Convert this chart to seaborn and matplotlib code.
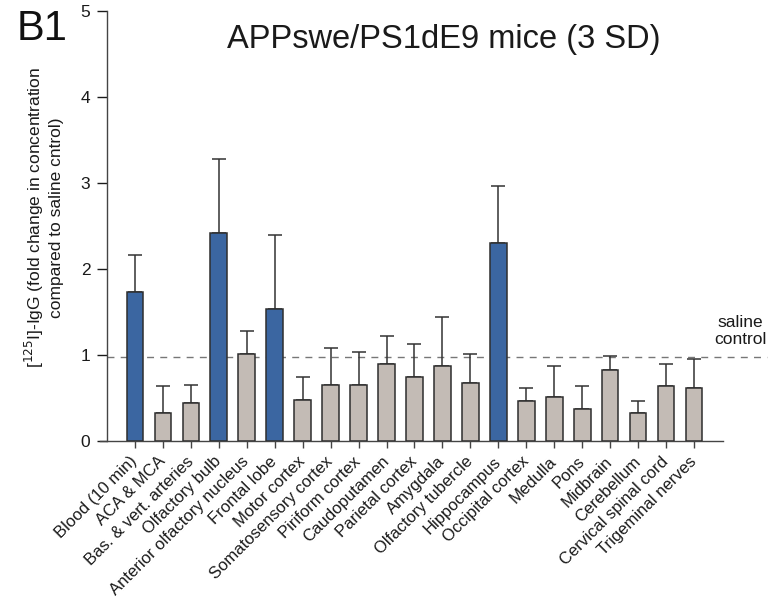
import matplotlib
matplotlib.use("Agg")
import matplotlib.pyplot as plt
import seaborn as sns
import pandas as pd

# Brain regions and tissue samples
regions = [
    "Blood (10 min)", "ACA & MCA", "Bas. & vert. arteries", "Olfactory bulb",
    "Anterior olfactory nucleus", "Frontal lobe", "Motor cortex",
    "Somatosensory cortex", "Piriform cortex", "Caudoputamen",
    "Parietal cortex", "Amygdala", "Olfactory tubercle", "Hippocampus",
    "Occipital cortex", "Medulla", "Pons", "Midbrain", "Cerebellum",
    "Cervical spinal cord", "Trigeminal nerves",
]
# Mean fold change relative to saline control
fold_change = [1.73, 0.32, 0.44, 2.42, 1.01, 1.54, 0.48, 0.65, 0.655, 0.89,
               0.75, 0.87, 0.67, 2.30, 0.47, 0.51, 0.37, 0.83, 0.33, 0.64, 0.62]
# Top of the error bar (mean + SD)
upper_limit = [2.16, 0.64, 0.65, 3.28, 1.28, 2.39, 0.74, 1.08, 1.03, 1.22,
               1.13, 1.44, 1.015, 2.97, 0.62, 0.87, 0.64, 0.99, 0.47, 0.90, 0.95]
# Regions exceeding the 3 SD threshold
significant = [True, False, False, True, False, True, False, False, False, False,
               False, False, False, True, False, False, False, False, False, False, False]
saline_level = 0.98

BLUE = "#3B66A1"
GREY = "#C3BBB5"
EDGE = "#2E2E2E"

sns.set_theme(style="white")
plt.rcParams["font.family"] = ["Liberation Sans", "DejaVu Sans"]

df = pd.DataFrame({"region": regions, "fold": fold_change})
palette = [BLUE if s else GREY for s in significant]

fig = plt.figure(figsize=(7.76, 6.0), dpi=100)
ax = fig.add_axes([100 / 776, 159 / 600, 623 / 776, 430 / 600])

sns.barplot(data=df, x="region", y="fold", hue="region", palette=palette,
            legend=False, width=0.6, edgecolor=EDGE, linewidth=1.1,
            saturation=1, ax=ax, zorder=3)

xs = list(range(len(regions)))
ax.errorbar(xs, fold_change,
            yerr=[[0] * len(regions), [u - v for u, v in zip(upper_limit, fold_change)]],
            fmt="none", ecolor="#333333", elinewidth=1.1, capsize=5, capthick=1.1,
            zorder=2)

# saline control reference line, running past the plot frame
ax.plot([-1.0, 22.6], [saline_level, saline_level], ls=(0, (5, 4.5)),
        color="#777777", lw=1.0, clip_on=False, zorder=1)
ax.text(21.65, 1.28, "saline\ncontrol", ha="center", va="center",
        fontsize=12.5, color="#1a1a1a", linespacing=1.15)

ax.set_xlim(-1.252, 21.04)
ax.set_ylim(0, 5)
ax.set_yticks([0, 1, 2, 3, 4, 5])
ax.set_xticks(xs)
ax.set_xticklabels(regions, rotation=45, ha="right", va="center",
                   rotation_mode="anchor", fontsize=12, color="#1a1a1a")
ax.tick_params(axis="y", labelsize=12.5, colors="#1a1a1a", length=7, width=1.0,
               direction="out", left=True, pad=5)
ax.tick_params(axis="x", length=5, width=1.0, direction="out", bottom=True,
               pad=8, color="#444444")

for side in ("top", "right"):
    ax.spines[side].set_visible(False)
ax.spines["left"].set_position(("data", -1.0))
ax.spines["left"].set_color("#444444")
ax.spines["bottom"].set_color("#444444")
ax.spines["left"].set_linewidth(1.0)
ax.spines["bottom"].set_linewidth(1.0)

ax.set_xlabel("")
ax.set_ylabel("[$^{125}$I]-IgG (fold change in concentration\ncompared to saline cntrol)",
              fontsize=12.5, color="#1a1a1a")
ax.yaxis.set_label_coords(-0.058, 0.52)

fig.text(444 / 776, 1 - 48 / 600, "APPswe/PS1dE9 mice (3 SD)", ha="center",
         va="baseline", fontsize=23.5, color="#1a1a1a")
fig.text(17 / 776, 1 - 40 / 600, "B1", ha="left", va="baseline",
         fontsize=30, color="#111111")

fig.savefig("out.png", dpi=100, facecolor="white")
